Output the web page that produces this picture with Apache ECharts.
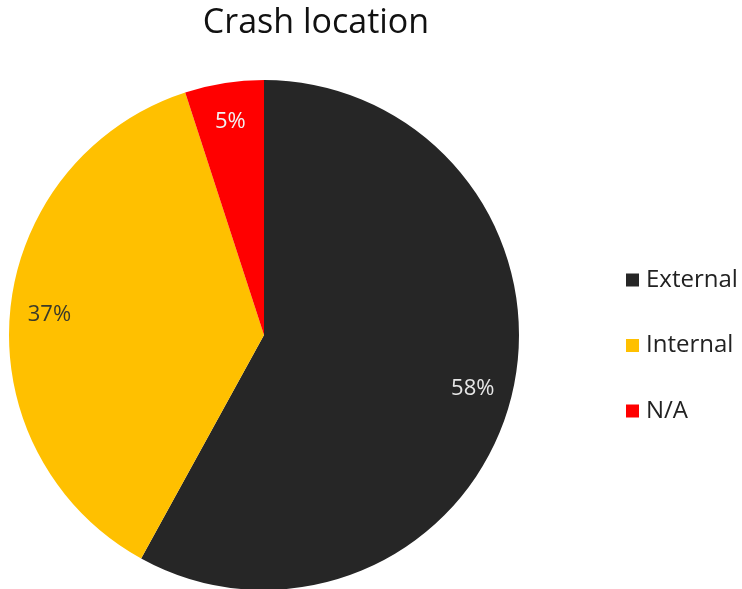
<!DOCTYPE html>
<html>
<head>
<meta charset="utf-8">
<script src="https://cdn.jsdelivr.net/npm/echarts@6/dist/echarts.min.js"></script>
<style>
html, body { margin: 0; padding: 0; background: #fff; }
#pieChart { width: 742px; height: 589px; }
</style>
</head>
<body>
<div id="pieChart"></div>
<script>
// 数据
var categories = ['External', 'Internal', 'N/A'];
var values = [58, 37, 5];
var colors = ['#262626', '#FFC000', '#FF0000'];
var labelColors = ['#e6e6e6', '#3a3a2a', '#f2f2f2'];

function pieData() {
    var data = [];
    for (var i = 0; i < categories.length; i++) {
        data.push({
            name: categories[i],
            value: values[i],
            itemStyle: { color: colors[i] },
            label: { color: labelColors[i] }
        });
    }
    return data;
}

var myChart = echarts.init(document.getElementById('pieChart'));
var font = '"Open Sans", "Noto Sans", sans-serif';

var option = {
    animation: false,
    title: {
        text: 'Crash location',
        left: 311,
        top: 1,
        textAlign: 'center',
        textStyle: { fontFamily: font, fontSize: 34, fontWeight: 'normal', color: '#111' }
    },
    legend: {
        orient: 'vertical',
        left: 621,
        top: 263,
        itemWidth: 13,
        itemHeight: 13,
        itemGap: 41.5,
        icon: 'rect',
        data: categories,
        textStyle: { fontFamily: font, fontSize: 24, color: '#222', padding: [0, 0, 0, 2] }
    },
    series: [{
        name: 'Crash location',
        type: 'pie',
        center: [264, 335],
        radius: 255,
        startAngle: 90,
        clockwise: true,
        label: { show: false },
        labelLine: { show: false },
        data: pieData()
    }, {
        // 仅用于放置标签
        type: 'pie',
        center: [264, 335],
        radius: [170, 255],
        startAngle: 90,
        clockwise: true,
        silent: true,
        itemStyle: { color: 'rgba(0,0,0,0)' },
        label: {
            show: true,
            position: 'inside',
            formatter: '{d}%',
            fontFamily: font,
            fontSize: 22
        },
        labelLine: { show: false },
        data: categories.map(function (c, i) {
            return {
                name: c,
                value: values[i],
                itemStyle: { color: 'rgba(0,0,0,0)' },
                label: { color: labelColors[i] }
            };
        })
    }]
};
myChart.setOption(option);
</script>
</body>
</html>
